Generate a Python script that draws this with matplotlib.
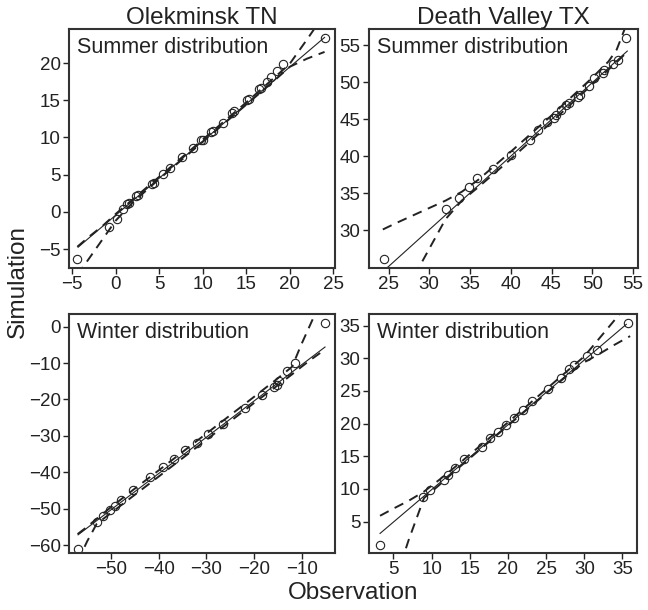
import numpy as np
import matplotlib.pyplot as plt

plt.rcParams['font.family'] = ['Liberation Sans', 'DejaVu Sans']

# station titles and panel labels
stations = ["Olekminsk TN", "Death Valley TX"]
seasons = ["Summer distribution", "Winter distribution"]

# ---- Olekminsk TN, summer ----
ole_sum_obs = [-4.4, -0.8, 0.2, 0.9, 1.3, 1.5, 2.4, 2.6, 4.2, 4.4, 5.5, 6.3, 7.6, 8.9,
               9.8, 10.0, 11.0, 11.2, 12.3, 13.4, 13.6, 15.1, 15.3, 16.5, 16.7, 17.4,
               17.9, 18.5, 19.2, 24.0]
ole_sum_sim = [-6.4, -2.0, -0.9, 0.35, 1.0, 1.2, 2.1, 2.3, 3.8, 3.9, 5.1, 5.9, 7.4, 8.6,
               9.6, 9.7, 10.7, 10.9, 12.0, 13.3, 13.5, 15.0, 15.2, 16.5, 16.6, 17.4,
               18.1, 19.0, 19.9, 23.4]
ole_sum_fit = [(-4.3, -4.75), (24.0, 23.45)]
ole_sum_band_x = [-4.4, -3.0, -1.5, 0.0, 2.0, 5.0, 10.0, 15.0, 18.0, 20.0, 22.0, 24.0]
ole_sum_band_hi = [-4.7, -3.3, -1.9, -0.3, 1.7, 4.7, 9.7, 14.7, 17.8, 19.9, 23.2, 26.6]
ole_sum_band_lo = [-8.5, -6.2, -3.7, -1.2, 1.3, 4.4, 9.4, 14.4, 17.4, 19.5, 20.6, 21.5]

# ---- Death Valley TX, summer ----
dv_sum_obs = [24.4, 32.0, 33.7, 34.9, 35.9, 37.8, 40.0, 42.3, 43.4, 44.5, 45.3, 45.6,
              46.2, 46.8, 47.2, 48.3, 48.5, 49.6, 50.2, 51.3, 51.4, 52.6, 53.2, 54.2]
dv_sum_sim = [26.1, 32.9, 34.3, 35.9, 37.0, 38.3, 40.2, 42.2, 43.5, 44.6, 45.2, 45.5,
              46.3, 46.9, 47.2, 48.0, 48.2, 49.5, 50.5, 51.2, 51.7, 52.4, 53.0, 55.9]
dv_sum_fit = [(24.9, 25.0), (54.3, 54.2)]
dv_sum_band_x = [24.3, 26.0, 28.0, 30.0, 32.0, 34.0, 36.0, 38.0, 40.0, 45.0, 50.0, 52.0, 53.0, 54.2]
dv_sum_band_hi = [30.1, 31.0, 32.0, 33.0, 34.0, 35.2, 36.8, 38.7, 40.6, 45.5, 50.6, 52.8, 54.4, 57.8]
dv_sum_band_lo = [16.0, 19.5, 23.5, 27.5, 31.5, 34.0, 35.8, 37.7, 39.6, 44.6, 49.7, 51.7, 52.7, 54.0]

# ---- Olekminsk TN, winter ----
ole_win_obs = [-57.0, -53.0, -51.6, -50.2, -49.2, -47.8, -45.3, -41.8, -39.1, -36.7,
               -34.5, -32.0, -29.6, -26.4, -21.9, -18.4, -15.9, -15.2, -14.7, -13.0,
               -11.4, -5.1]
ole_win_sim = [-61.0, -53.7, -51.9, -50.5, -49.4, -47.5, -45.0, -41.4, -38.7, -36.4,
               -34.0, -31.9, -29.6, -26.8, -22.3, -18.9, -16.7, -16.1, -15.0, -12.3,
               -10.0, 0.9]
ole_win_fit = [(-56.9, -57.2), (-5.1, -5.6)]
ole_win_band_x = [-57.0, -55.0, -53.0, -50.0, -45.0, -40.0, -30.0, -20.0, -15.0, -12.0, -10.0, -8.0, -5.0]
ole_win_band_hi = [-57.0, -55.0, -52.8, -49.6, -44.5, -39.5, -29.4, -19.3, -14.2, -11.0, -4.7, 1.1, 9.8]
ole_win_band_lo = [-64.6, -59.0, -54.2, -51.2, -46.2, -41.2, -31.1, -21.0, -16.1, -13.1, -11.0, -9.0, -6.2]

# ---- Death Valley TX, winter ----
dv_win_obs = [3.25, 8.9, 9.8, 11.6, 12.1, 13.1, 14.2, 16.6, 17.6, 18.7, 19.8, 20.8,
              22.0, 23.1, 25.3, 26.9, 28.0, 28.7, 30.4, 31.6, 35.7]
dv_win_sim = [1.4, 8.7, 9.85, 11.4, 12.1, 13.2, 14.6, 16.5, 17.8, 18.8, 19.8, 20.8,
              22.1, 23.4, 25.3, 27.0, 28.3, 29.0, 30.4, 31.2, 35.4]
dv_win_fit = [(3.25, 3.2), (35.5, 35.2)]
dv_win_band_x = [3.25, 5.0, 7.0, 9.0, 11.0, 13.0, 20.0, 28.0, 30.0, 32.0, 34.0, 36.0]
dv_win_band_hi = [5.9, 7.0, 8.2, 9.6, 11.4, 13.3, 20.2, 28.3, 30.3, 33.1, 35.9, 38.7]
dv_win_band_lo = [-11.0, -4.9, 2.2, 8.6, 10.6, 12.7, 19.7, 27.6, 29.4, 30.7, 32.1, 33.4]

panels = [
    (ole_sum_obs, ole_sum_sim, ole_sum_fit, ole_sum_band_x, ole_sum_band_hi, ole_sum_band_lo,
     (-5.35, 25.2), (-7.55, 24.6), np.arange(-5, 26, 5), np.arange(-5, 21, 5)),
    (dv_sum_obs, dv_sum_sim, dv_sum_fit, dv_sum_band_x, dv_sum_band_hi, dv_sum_band_lo,
     (22.6, 55.6), (24.9, 57.2), np.arange(25, 56, 5), np.arange(30, 56, 5)),
    (ole_win_obs, ole_win_sim, ole_win_fit, ole_win_band_x, ole_win_band_hi, ole_win_band_lo,
     (-58.8, -3.0), (-62.2, 3.5), np.arange(-50, -9, 10), np.arange(-60, 1, 10)),
    (dv_win_obs, dv_win_sim, dv_win_fit, dv_win_band_x, dv_win_band_hi, dv_win_band_lo,
     (1.8, 36.9), (0.2, 36.8), np.arange(5, 36, 5), np.arange(5, 36, 5)),
]

# axes rectangles [left, bottom, width, height] in figure fraction
rects = [[0.1065, 0.5607, 0.4105, 0.392],
         [0.5694, 0.5607, 0.415, 0.392],
         [0.1065, 0.0934, 0.4105, 0.392],
         [0.5694, 0.0934, 0.4136, 0.392]]

fig = plt.figure(figsize=(6.48, 6.10), dpi=100)

for i, (obs, sim, fit, bx, bhi, blo, xl, yl, xt, yt) in enumerate(panels):
    ax = fig.add_axes(rects[i])
    ax.plot(bx, bhi, color='#222222', lw=1.4, ls=(0, (5, 3.5)))
    ax.plot(bx, blo, color='#222222', lw=1.4, ls=(0, (5, 3.5)))
    ax.plot([p[0] for p in fit], [p[1] for p in fit], color='#222222', lw=0.8)
    ax.plot(obs, sim, 'o', ms=6, mfc='none', mec='#222222', mew=0.8)
    ax.set_xlim(xl)
    ax.set_ylim(yl)
    ax.set_xticks(xt)
    ax.set_yticks(yt)
    ax.tick_params(direction='out', length=4, width=1, labelsize=13.5,
                   colors='#222222', pad=2)
    for s in ax.spines.values():
        s.set_linewidth(1.5)
        s.set_color('#333333')
    ax.text(0.03, 0.965, seasons[i // 2], transform=ax.transAxes,
            ha='left', va='top', fontsize=15.5, color='#222222')
    if i < 2:
        ax.set_title(stations[i], fontsize=17.5, pad=2, color='#222222')

fig.text(0.027, 0.538, "Simulation", rotation=90, ha='center', va='center',
         fontsize=17.5, color='#222222')
fig.text(0.545, 0.028, "Observation", ha='center', va='center',
         fontsize=17.5, color='#222222')

fig.savefig("out.png", dpi=100)
